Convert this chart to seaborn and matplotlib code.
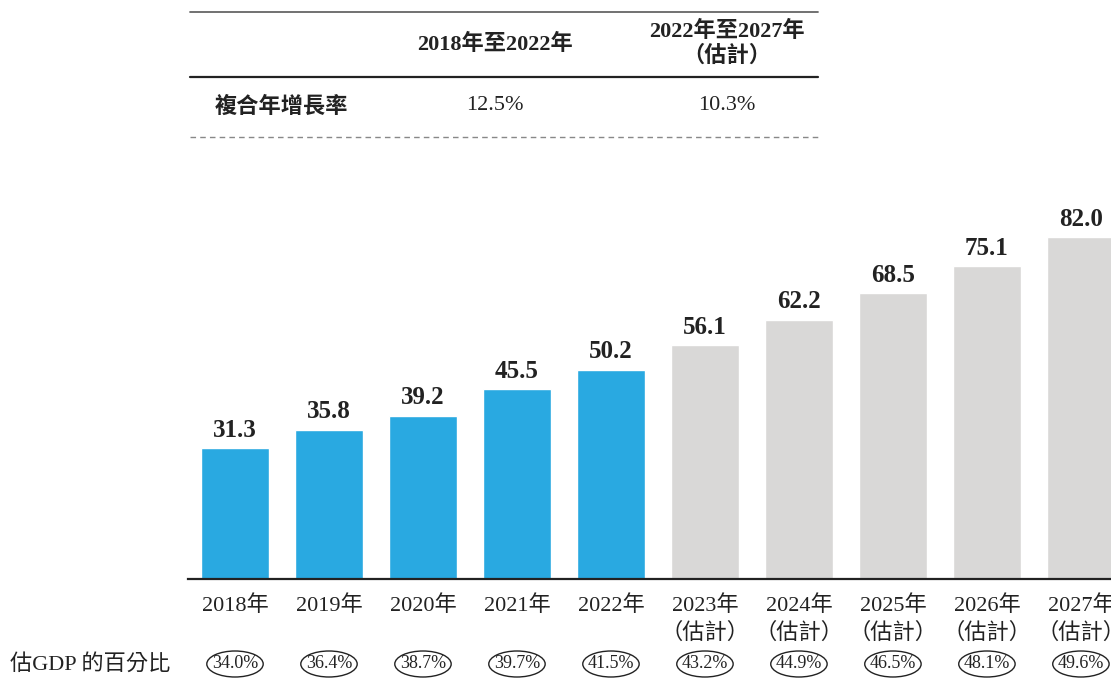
import matplotlib
matplotlib.use('Agg')
import matplotlib.pyplot as plt
import matplotlib.transforms as mtransforms
from matplotlib.patches import Ellipse
from matplotlib.lines import Line2D
import pandas as pd
import seaborn as sns

years = ['2018年', '2019年', '2020年', '2021年', '2022年',
         '2023年\n（估計）', '2024年\n（估計）', '2025年\n（估計）',
         '2026年\n（估計）', '2027年\n（估計）']
values = [31.3, 35.8, 39.2, 45.5, 50.2, 56.1, 62.2, 68.5, 75.1, 82.0]
kind = ['actual'] * 5 + ['forecast'] * 5
gdp_share = ['34.0%', '36.4%', '38.7%', '39.7%', '41.5%',
             '43.2%', '44.9%', '46.5%', '48.1%', '49.6%']

cagr_periods = ['2018年至2022年', '2022年至2027年\n（估計）']
cagr_values = ['12.5%', '10.3%']

W, H = 1111, 678
SERIF = ['Liberation Serif', 'Noto Sans CJK TC']
SANS = ['Noto Sans CJK TC', 'DejaVu Sans']

sns.set_style('white')
plt.rcParams['font.family'] = SERIF

df = pd.DataFrame({'year': years, 'value': values, 'kind': kind})

fig = plt.figure(figsize=(W / 100, H / 100), dpi=100)
# axes placed in pixel terms: left 188, baseline y=579, 4.17 px per unit
ax_h = 90 * 4.17
ax = fig.add_axes([188 / W, (H - 579) / H, (W - 188) / W, ax_h / H])

sns.barplot(data=df, x='year', y='value', hue='kind',
            palette={'actual': '#29a9e1', 'forecast': '#d9d8d7'},
            width=0.723, saturation=1, legend=False, ax=ax)

ax.set_xlim(-0.5, 9.32)
ax.set_ylim(0, 90)
ax.set(xlabel='', ylabel='')
ax.set_yticks([])
for side in ['left', 'right', 'top']:
    ax.spines[side].set_visible(False)
ax.spines['bottom'].set_color('#222222')
ax.spines['bottom'].set_linewidth(1.6)
ax.tick_params(axis='x', length=0, pad=12, labelsize=16, colors='#222222')
for lab in ax.get_xticklabels():
    lab.set_linespacing(1.4)
    lab.set_verticalalignment('top')

for i, v in enumerate(values):
    ax.text(i, v + 1.5, f'{v:.1f}', ha='center', va='bottom',
            fontsize=18, fontweight='bold', color='#222222')

# GDP share row
blend = mtransforms.blended_transform_factory(ax.transData, fig.transFigure)
row_y = 1 - 664 / H
for i, s in enumerate(gdp_share):
    ax.add_patch(Ellipse((i, row_y), 0.6, 26 / H, transform=blend,
                         fill=False, edgecolor='#222222', lw=1.0,
                         clip_on=False))
    ax.text(i, row_y, s, transform=blend, ha='center', va='center',
            fontsize=13, color='#222222', clip_on=False)
fig.text(10 / W, row_y, '估GDP 的百分比', ha='left', va='center',
         fontsize=16, color='#222222', family=SERIF)

# CAGR table
def fy(px):
    return 1 - px / H

fig.add_artist(Line2D([190 / W, 818 / W], [fy(12), fy(12)],
                      color='#666666', lw=1.3))
fig.add_artist(Line2D([190 / W, 818 / W], [fy(77), fy(77)],
                      color='#222222', lw=1.6))
fig.add_artist(Line2D([190 / W, 818 / W], [fy(137), fy(137)],
                      color='#888888', lw=1.0, ls=(0, (4, 3))))

fig.text(495 / W, fy(44), cagr_periods[0], ha='center', va='center',
         fontsize=16, fontweight='bold', color='#222222')
fig.text(727 / W, fy(44), cagr_periods[1], ha='center', va='center',
         fontsize=16, fontweight='bold', color='#222222', linespacing=1.25)
fig.text(215 / W, fy(106), '複合年增長率', ha='left', va='center',
         fontsize=16, fontweight='bold', color='#222222', family=SANS)
fig.text(495 / W, fy(106), cagr_values[0], ha='center', va='center',
         fontsize=16, color='#222222')
fig.text(727 / W, fy(106), cagr_values[1], ha='center', va='center',
         fontsize=16, color='#222222')

fig.savefig('out.png', dpi=100)
